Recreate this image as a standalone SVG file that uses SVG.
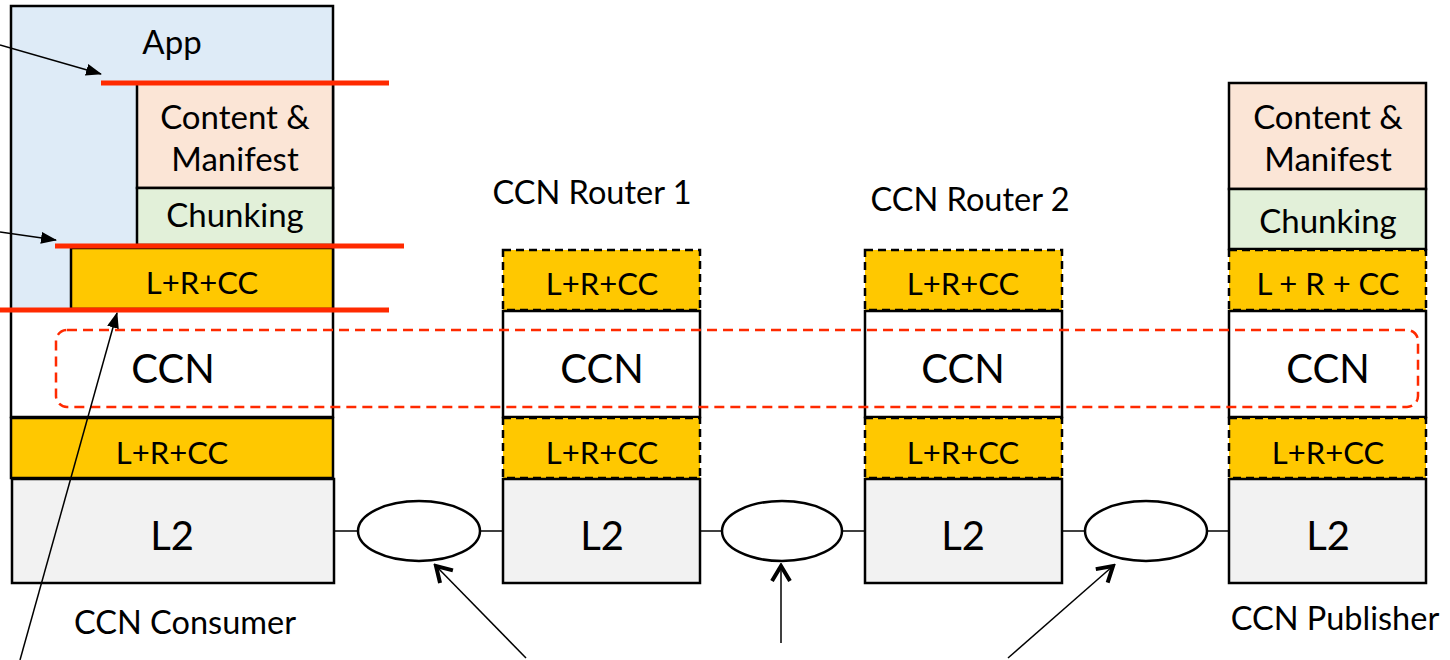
<svg xmlns="http://www.w3.org/2000/svg" width="1450" height="660" viewBox="0 0 1450 660">
<defs>
<style>
text{font-family:Lato,"Liberation Sans",sans-serif;fill:#000;text-anchor:middle}
.box{stroke:#000;stroke-width:2.5}
.dash{stroke:#000;stroke-width:2.5;stroke-dasharray:8 5}
.blue{fill:#DEEBF7}.pink{fill:#FBE5D6}.green{fill:#E2F0D9}.gold{fill:#FFC800}.gray{fill:#F2F2F2}.white{fill:#fff}
.t33{font-size:33px}.t31{font-size:31px}.lbl{font-size:32.5px}.t40{font-size:40px}
.red{stroke:#FF2A00;stroke-width:5}
.conn{stroke:#000;stroke-width:1.5;fill:none}
</style>
<marker id="tri" markerWidth="16" markerHeight="12" refX="15" refY="6" orient="auto" markerUnits="userSpaceOnUse"><path d="M0,0 L16,6 L0,12 z" fill="#000"/></marker>
<marker id="vee" markerWidth="20" markerHeight="22" refX="17" refY="11" orient="auto" markerUnits="userSpaceOnUse"><path d="M2,2 L17,11 L2,20" fill="none" stroke="#000" stroke-width="4"/></marker>
</defs>
<rect width="1450" height="660" fill="#fff"/>

<g id="consumer">
<rect class="box blue" x="11" y="6" width="322" height="304"/>
<text class="t33" x="172" y="54">App</text>
<rect class="box pink" x="137" y="83" width="196" height="105"/>
<text class="t33" x="235" y="129">Content &amp;</text>
<text class="t33" x="235" y="171">Manifest</text>
<rect class="box green" x="137" y="188" width="196" height="57"/>
<text class="t33" x="235" y="227">Chunking</text>
<rect class="box gold" x="71" y="248" width="262" height="61"/>
<text class="t31" x="202" y="294">L+R+CC</text>
<rect class="box white" x="11" y="310" width="322" height="107"/>
<text class="t40" x="173" y="383">CCN</text>
<rect class="box gold" x="11" y="418" width="322" height="60"/>
<text class="t31" x="172" y="464">L+R+CC</text>
<rect class="box gray" x="12" y="479" width="322" height="104"/>
<text class="t40" x="172" y="550">L2</text>
<text class="lbl" x="185" y="634">CCN Consumer</text>
</g>

<g id="router1">
<text class="lbl" x="592" y="204">CCN Router 1</text>
<rect class="dash gold" x="503" y="250" width="197" height="60"/>
<text class="t31" x="602" y="295">L+R+CC</text>
<rect class="box white" x="503" y="311" width="197" height="106"/>
<text class="t40" x="602" y="383">CCN</text>
<rect class="dash gold" x="503" y="418" width="197" height="60"/>
<text class="t31" x="602" y="464">L+R+CC</text>
<rect class="box gray" x="503" y="479" width="197" height="104"/>
<text class="t40" x="602" y="550">L2</text>
</g>

<g id="router2">
<text class="lbl" x="970" y="211">CCN Router 2</text>
<rect class="dash gold" x="865" y="250" width="197" height="60"/>
<text class="t31" x="963" y="295">L+R+CC</text>
<rect class="box white" x="865" y="311" width="197" height="106"/>
<text class="t40" x="963" y="383">CCN</text>
<rect class="dash gold" x="865" y="418" width="197" height="60"/>
<text class="t31" x="963" y="464">L+R+CC</text>
<rect class="box gray" x="865" y="479" width="197" height="104"/>
<text class="t40" x="963" y="550">L2</text>
</g>

<g id="publisher">
<rect class="box pink" x="1229" y="83" width="197" height="106"/>
<text class="t33" x="1328" y="129">Content &amp;</text>
<text class="t33" x="1328" y="171">Manifest</text>
<rect class="box green" x="1229" y="189" width="197" height="60"/>
<text class="t33" x="1328" y="233">Chunking</text>
<rect class="dash gold" x="1229" y="250" width="197" height="60"/>
<text class="t31" x="1328" y="295">L + R + CC</text>
<rect class="box white" x="1229" y="311" width="197" height="106"/>
<text class="t40" x="1328" y="383">CCN</text>
<rect class="dash gold" x="1229" y="418" width="197" height="60"/>
<text class="t31" x="1328" y="464">L+R+CC</text>
<rect class="box gray" x="1229" y="479" width="197" height="104"/>
<text class="t40" x="1328" y="550">L2</text>
<text class="lbl" x="1335" y="630">CCN Publisher</text>
</g>

<g id="links">
<line class="conn" x1="334" y1="531" x2="358" y2="531"/>
<ellipse cx="419" cy="531" rx="61" ry="30" fill="#fff" stroke="#000" stroke-width="2.5"/>
<line class="conn" x1="480" y1="531" x2="503" y2="531"/>
<line class="conn" x1="700" y1="531" x2="722" y2="531"/>
<ellipse cx="782" cy="531" rx="60" ry="30" fill="#fff" stroke="#000" stroke-width="2.5"/>
<line class="conn" x1="842" y1="531" x2="865" y2="531"/>
<line class="conn" x1="1062" y1="531" x2="1085" y2="531"/>
<ellipse cx="1146" cy="531" rx="61" ry="30" fill="#fff" stroke="#000" stroke-width="2.5"/>
<line class="conn" x1="1207" y1="531" x2="1229" y2="531"/>
</g>

<g id="layer-lines">
<line class="red" x1="101" y1="83" x2="389" y2="83"/>
<line class="red" x1="55" y1="246" x2="404" y2="246"/>
<line class="red" x1="0" y1="310" x2="389" y2="310"/>
<rect x="56" y="330" width="1362" height="77" rx="11" fill="none" stroke="#FF2A00" stroke-width="2.5" stroke-dasharray="10 6"/>
</g>

<g id="connectors">
<line class="conn" x1="0" y1="45" x2="101" y2="74" marker-end="url(#tri)"/>
<line class="conn" x1="0" y1="232" x2="56" y2="240" marker-end="url(#tri)"/>
<line class="conn" x1="20" y1="660" x2="117" y2="313" marker-end="url(#tri)"/>
<line class="conn" x1="526" y1="658" x2="436" y2="566" marker-end="url(#vee)"/>
<line class="conn" x1="781" y1="643" x2="781" y2="566" marker-end="url(#vee)"/>
<line class="conn" x1="1008" y1="658" x2="1113" y2="566" marker-end="url(#vee)"/>
</g>
</svg>
